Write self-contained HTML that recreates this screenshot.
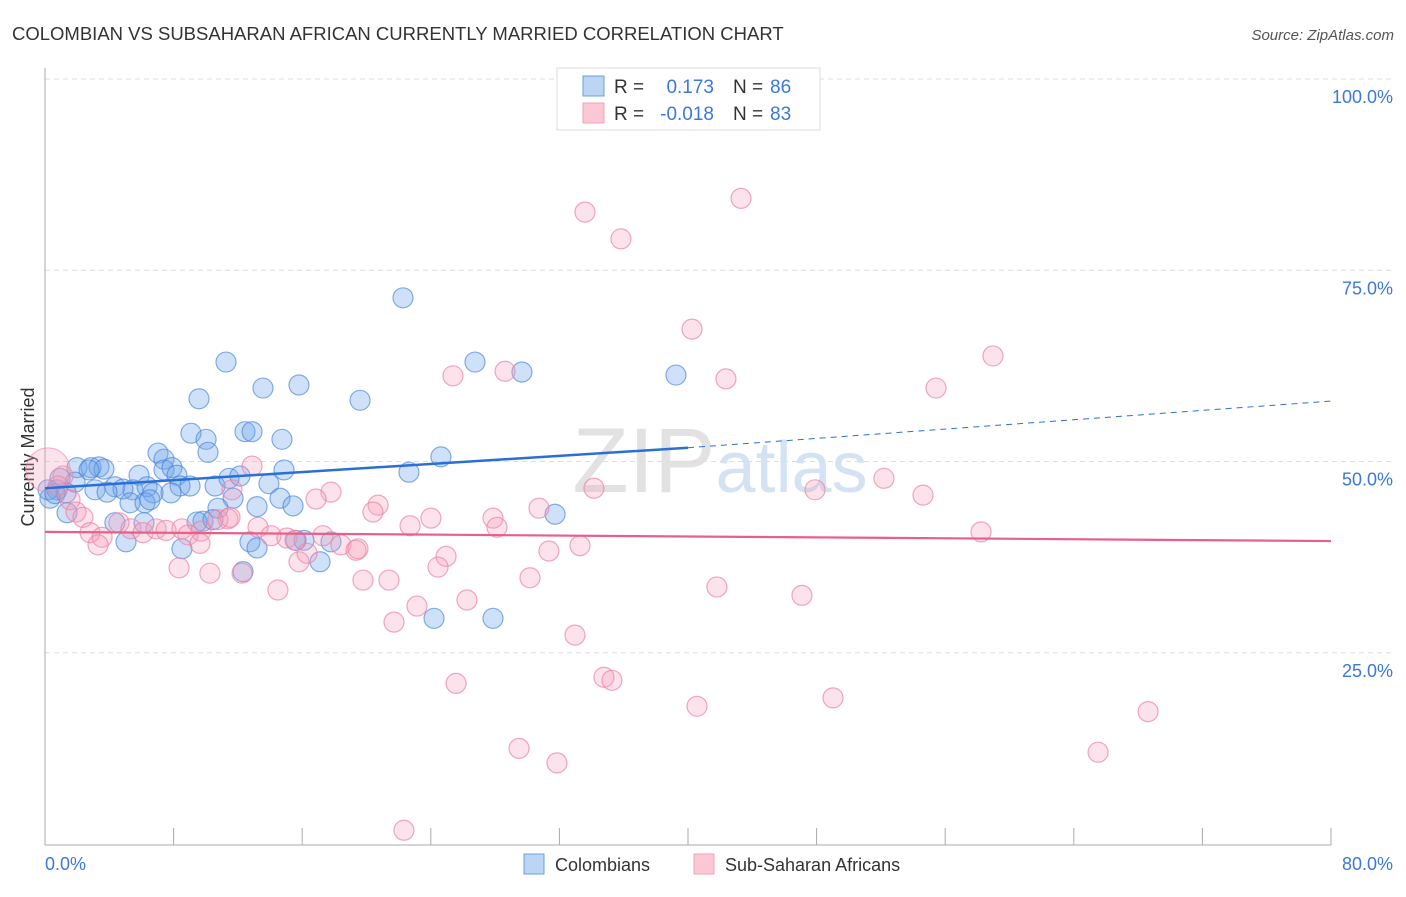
<!DOCTYPE html>
<html><head><meta charset="utf-8"><style>
body{margin:0;background:#fff;font-family:"Liberation Sans",sans-serif}
svg text{font-family:"Liberation Sans",sans-serif}
</style></head><body>
<svg id="chart" width="1406" height="892" xmlns="http://www.w3.org/2000/svg">
<text x="12" y="40" font-size="18.5" fill="#333">COLOMBIAN VS SUBSAHARAN AFRICAN CURRENTLY MARRIED CORRELATION CHART</text>
<text x="1394" y="40" font-size="15" fill="#555" text-anchor="end" font-style="italic">Source: ZipAtlas.com</text>
<text x="720" y="492" font-size="92" fill="#e2e2e2" text-anchor="middle" font-family="Liberation Serif">ZIP<tspan font-family="Liberation Sans" fill="#d4e3f4" font-size="72">atlas</tspan></text>
<text transform="translate(34,457) rotate(-90)" font-size="18" fill="#333" text-anchor="middle">Currently Married</text>
<g id="grid"></g><g id="pts"></g><g id="lines"></g>
<g>
<rect x="557" y="68" width="263" height="62" fill="#fff" stroke="#ddd"/>
<rect x="583" y="76" width="21" height="20" fill="#bcd5f5" stroke="#6aa0e0"/>
<rect x="583" y="103" width="21" height="20" fill="#fcc8d6" stroke="#f0a0b8"/>
<text x="614" y="93" font-size="19" fill="#333">R = </text><text x="714" y="93" font-size="19" fill="#3b78d8" text-anchor="end">0.173</text>
<text x="733" y="93" font-size="19" fill="#333">N = </text><text x="770" y="93" font-size="19" fill="#3b78d8">86</text>
<text x="614" y="120" font-size="19" fill="#333">R = </text><text x="714" y="120" font-size="19" fill="#3b78d8" text-anchor="end">-0.018</text>
<text x="733" y="120" font-size="19" fill="#333">N = </text><text x="770" y="120" font-size="19" fill="#3b78d8">83</text>
</g>
<g>
<rect x="524" y="854" width="20" height="20" fill="#bcd5f5" stroke="#6aa0e0"/>
<text x="555" y="871" font-size="18" fill="#333">Colombians</text>
<rect x="694" y="854" width="20" height="20" fill="#fcc8d6" stroke="#f0a0b8"/>
<text x="725" y="871" font-size="18" fill="#333">Sub-Saharan Africans</text>
</g>
</svg>
<script>
const yTicks=[100,75,50,25];
const yTickLabels=["100.0%","75.0%","50.0%","25.0%"];
const xTickLabels=["0.0%","80.0%"];
const blueX=[22.27,11.26,26.75,29.67,39.25,13.56,15.80,9.58,19.60,9.08,10.02,12.44,12.88,14.74,10.14,7.03,7.40,24.63,22.64,14.87,1.99,2.86,3.36,3.67,2.74,5.85,7.40,7.90,8.21,0.93,1.87,4.35,5.47,4.85,6.35,3.11,3.86,6.72,8.40,9.02,10.58,11.45,12.13,13.93,0.75,0.31,1.31,5.29,6.22,6.53,7.84,14.62,15.43,13.19,11.70,10.76,9.83,9.46,10.45,6.16,4.35,1.37,5.04,8.52,12.75,13.19,16.11,15.61,17.11,17.79,12.32,24.20,27.87,31.73,0.19,0.62];
const blueY=[71.4,63.0,63.0,61.7,61.3,59.6,60.0,58.2,58.0,53.7,52.9,53.9,53.9,52.9,51.2,51.1,50.3,50.6,48.6,48.9,49.2,49.2,49.3,49.0,48.9,48.2,48.9,49.2,48.2,47.8,47.3,46.7,46.3,46.4,46.7,46.3,46.0,45.9,46.8,46.8,46.8,47.8,48.1,47.1,46.3,45.2,45.9,44.6,44.6,45.0,45.9,45.2,44.2,44.1,45.2,43.9,42.2,42.1,42.4,42.0,42.0,43.3,39.5,38.6,39.5,38.7,39.7,39.7,36.9,39.5,35.6,29.5,29.5,43.1,46.3,45.8];
const pinkX=[43.30,33.59,35.83,40.25,58.97,25.38,28.62,42.36,55.43,12.88,52.19,34.15,47.90,54.62,17.79,16.86,20.72,20.40,30.73,11.63,1.12,0.81,1.56,1.93,2.36,2.80,3.55,4.60,5.35,6.10,6.91,7.53,8.52,9.70,8.90,9.64,10.76,11.38,13.25,14.06,15.05,15.55,17.29,18.41,19.35,19.47,22.71,24.01,27.87,28.12,31.35,33.28,58.23,8.34,10.26,12.26,14.49,15.80,16.30,19.78,21.40,24.95,24.45,30.17,26.25,23.14,21.71,41.80,47.09,32.97,34.77,35.27,25.57,40.56,49.02,68.62,65.51,29.49,31.85,22.33,3.30,11.51];
const pinkY=[84.4,82.6,79.1,67.3,63.8,61.2,61.8,60.8,59.6,49.4,47.8,46.5,46.3,45.6,46.0,45.1,44.3,43.4,43.9,46.3,48.1,46.8,45.0,43.4,42.7,40.7,40.1,42.0,41.2,40.7,41.2,41.0,41.2,40.9,40.4,39.3,42.4,42.5,41.4,40.3,40.0,39.7,40.3,39.1,38.4,38.6,41.6,42.6,42.6,41.4,38.3,39.0,40.8,36.1,35.4,35.4,33.2,36.9,38.0,34.5,34.5,37.6,36.2,34.8,31.9,31.1,29.0,33.6,32.5,27.3,21.8,21.4,21.0,18.0,19.1,17.3,12.0,12.5,10.6,1.8,39.1,42.7];
const bigPink=[0.19,48.9];
const blueTrend=[46.5,51.8,57.9];
const pinkTrend=[40.8,39.6];
const NS="http://www.w3.org/2000/svg";
const sx=v=>45+v*16.075, sy=v=>844-v*7.65;
function mk(t,a,p){const e=document.createElementNS(NS,t);for(const k in a)e.setAttribute(k,a[k]);p.appendChild(e);return e;}
const grid=document.getElementById('grid');
yTicks.forEach((t,i)=>{
 const l=mk('line',{x1:45,x2:1395,y1:sy(t),y2:sy(t),stroke:'#ddd','stroke-dasharray':'5,4'},grid);
 
 
 const tx=mk('text',{x:1393,y:sy(t)+24,'font-size':18,fill:'#3b78d8','text-anchor':'end'},grid);tx.textContent=yTickLabels[i];
 
 
});
const ax=mk('line',{x1:45,x2:45,y1:68,y2:845,stroke:'#aaa'},grid);


const bx=mk('line',{x1:45,x2:1331,y1:845,y2:845,stroke:'#aaa'},grid);


for(let i=0;i<=10;i++){const t=mk('line',{x1:sx(i*8),x2:sx(i*8),y1:828,y2:845,stroke:'#aaa'},grid);
 
 }
[[0,'start',45],[80,'end',1393]].forEach((d,i)=>{const t=mk('text',{x:d[2],y:870,'font-size':18,fill:'#3b78d8','text-anchor':d[1]},grid);t.textContent=xTickLabels[i];
 
 });
const pts=document.getElementById('pts');
blueX.forEach((x,i)=>{const c=mk('circle',{cx:sx(x),cy:sy(blueY[i]),r:10,fill:'rgba(110,165,235,0.33)',stroke:'rgba(70,130,220,0.65)','stroke-width':1.2},pts);
 
 });
pinkX.forEach((x,i)=>{const c=mk('circle',{cx:sx(x),cy:sy(pinkY[i]),r:10,fill:'rgba(245,160,185,0.3)',stroke:'rgba(235,130,165,0.7)','stroke-width':1.2},pts);
 
 });
const bp=mk('circle',{cx:sx(bigPink[0]),cy:sy(bigPink[1]),r:22,fill:'rgba(245,160,185,0.3)',stroke:'rgba(235,130,165,0.6)'},pts);


const L=document.getElementById('lines');
const b1=mk('line',{x1:sx(0),y1:sy(blueTrend[0]),x2:sx(40),y2:sy(blueTrend[1]),stroke:'#2a6fd6','stroke-width':2.5},L);


const b2=mk('line',{x1:sx(40),y1:sy(blueTrend[1]),x2:sx(80),y2:sy(blueTrend[2]),stroke:'#2a6fd6','stroke-width':1,'stroke-dasharray':'6,5'},L);


const p1=mk('line',{x1:sx(0),y1:sy(pinkTrend[0]),x2:sx(80),y2:sy(pinkTrend[1]),stroke:'#e8608a','stroke-width':2.2},L);


</script>
</body></html>
